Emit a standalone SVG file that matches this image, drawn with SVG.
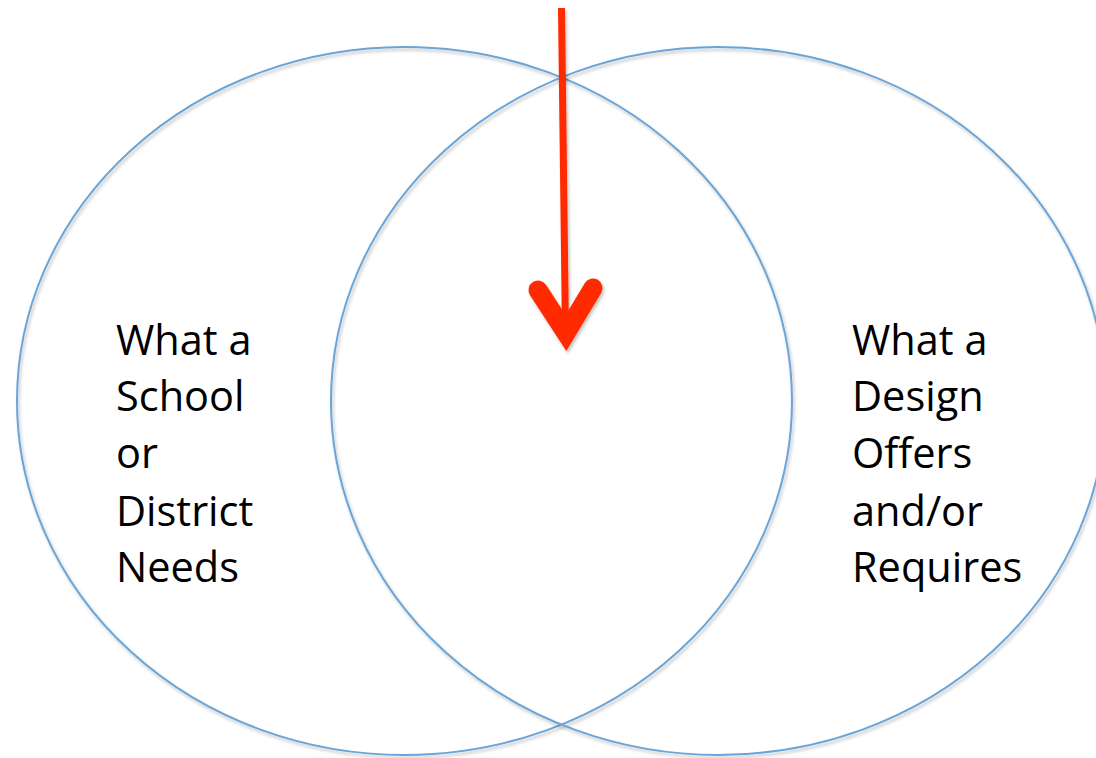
<svg xmlns="http://www.w3.org/2000/svg" width="1096" height="758" viewBox="0 0 1096 758">
  <defs>
    <filter id="shadow" filterUnits="userSpaceOnUse" x="0" y="0" width="1096" height="758">
      <feDropShadow dx="1.5" dy="2.5" stdDeviation="1.5" flood-color="#000000" flood-opacity="0.25"/>
    </filter>
  </defs>
  <style>
    .ring { fill: none; stroke: #6aa5d8; stroke-width: 2; }
    .label { font-family: "Open Sans", "Liberation Sans", sans-serif; font-size: 41.5px; fill: #000000; }
    .arrow { fill: none; stroke: #ff2a00; stroke-linecap: round; }
  </style>
  <rect width="1096" height="758" fill="#ffffff"/>
  <g id="left-circle" filter="url(#shadow)">
    <ellipse class="ring" cx="404.5" cy="401" rx="387.5" ry="354"/>
  </g>
  <g id="right-circle" filter="url(#shadow)">
    <ellipse class="ring" cx="718.5" cy="401" rx="387.5" ry="354"/>
  </g>
  <g id="left-label">
    <text class="label" x="116" y="355">What a</text>
    <text class="label" x="116" y="411">School</text>
    <text class="label" x="116" y="468">or</text>
    <text class="label" x="116" y="526">District</text>
    <text class="label" x="116" y="582">Needs</text>
  </g>
  <g id="right-label">
    <text class="label" x="852" y="355">What a</text>
    <text class="label" x="852" y="411">Design</text>
    <text class="label" x="852" y="468">Offers</text>
    <text class="label" x="852" y="526">and/or</text>
    <text class="label" x="852" y="582">Requires</text>
  </g>
  <g id="connectors" filter="url(#shadow)">
    <line class="arrow" x1="561.5" y1="8" x2="565.5" y2="335" stroke-width="7" style="stroke-linecap:butt"/>
    <polyline class="arrow" points="538,290 566,333 593,288" stroke-width="19" style="stroke-linejoin:miter;stroke-miterlimit:10"/>
  </g>
</svg>
